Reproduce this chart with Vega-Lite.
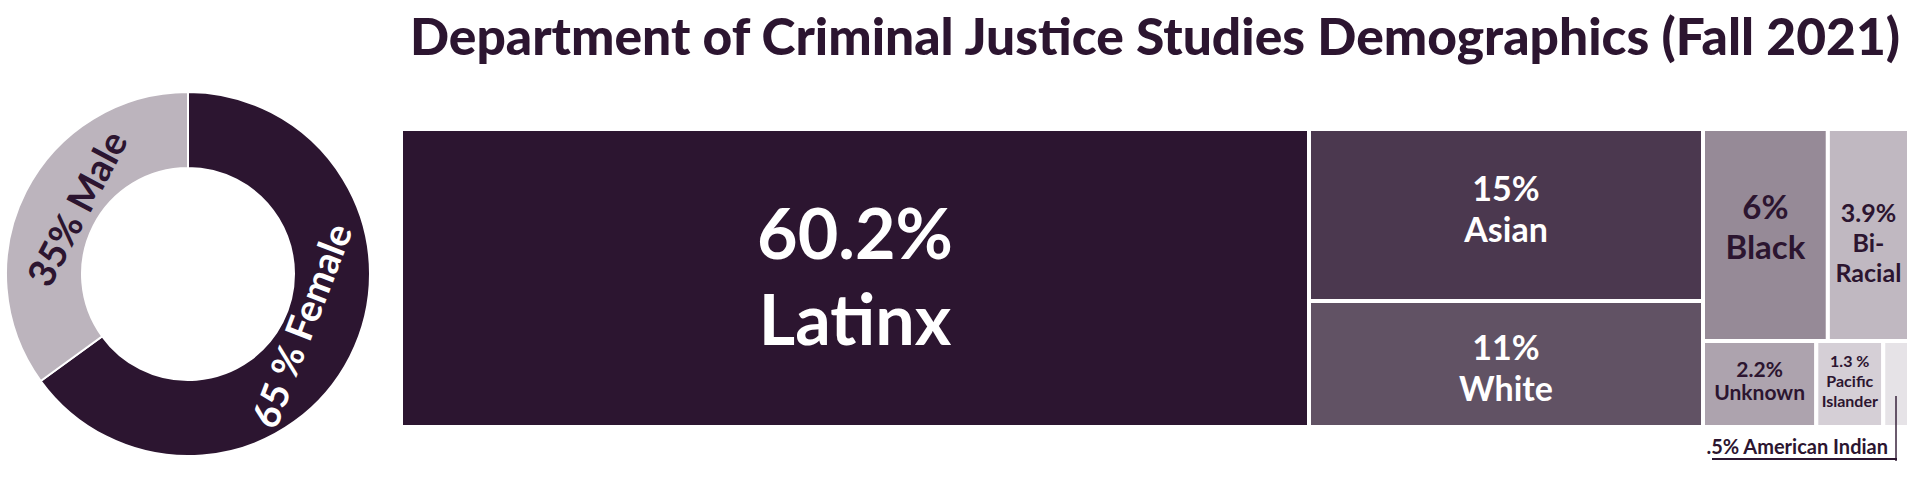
{
  "$schema": "https://vega.github.io/schema/vega-lite/v6.json",
  "background": "white",
  "padding": {"left": 2, "top": 13, "right": 0, "bottom": 0},
  "config": {
    "view": {"stroke": null},
    "text": {"font": "Lato", "fontWeight": "bold"},
    "title": {"font": "Lato", "fontWeight": 900}
  },
  "datasets": {
    "gender": [
      {"gender": "Female", "pct": 65, "label": "65 % Female"},
      {"gender": "Male", "pct": 35, "label": "35% Male"}
    ],
    "race": [
      {"race": "Latinx", "pct": 60.2, "label": "60.2%\nLatinx"},
      {"race": "Asian", "pct": 15, "label": "15%\nAsian"},
      {"race": "White", "pct": 11, "label": "11%\nWhite"},
      {"race": "Black", "pct": 6, "label": "6%\nBlack"},
      {"race": "Bi-Racial", "pct": 3.9, "label": "3.9%\nBi-\nRacial"},
      {"race": "Unknown", "pct": 2.2, "label": "2.2%\nUnknown"},
      {"race": "Pacific Islander", "pct": 1.3, "label": "1.3 %\nPacific\nIslander"},
      {"race": "American Indian", "pct": 0.5, "label": ".5% American Indian"}
    ]
  },
  "spacing": 25,
  "hconcat": [
    {
      "width": 364,
      "height": 298,
      "data": {"name": "gender"},
      "layer": [
        {
          "mark": {"type": "arc", "outerRadius": 182, "innerRadius": 106, "stroke": "white", "strokeWidth": 2, "yOffset": -4},
          "encoding": {
            "theta": {"field": "pct", "type": "quantitative", "stack": true},
            "order": {"field": "pct", "sort": "descending"},
            "fill": {"field": "gender", "type": "nominal", "legend": null,
              "scale": {"domain": ["Latinx", "Asian", "White", "Black", "Bi-Racial", "Unknown", "Pacific Islander", "American Indian", "Female", "Male"],
                        "range": ["#2c1530", "#4b384f", "#615264", "#968a97", "#c0b8c1", "#ada3ae", "#d5cfd6", "#e6e3e7", "#2c1530", "#bcb4bd"]}}
          }
        },
        {
          "mark": {"type": "text", "fontSize": 38, "yOffset": -4,
                   "radius": {"expr": "datum.gender === 'Female' ? 128 : 126"},
                   "angle": {"expr": "datum.gender === 'Female' ? -69 : -62"},
                   "dx": {"expr": "datum.gender === 'Female' ? 6 : 8"}},
          "encoding": {
            "theta": {"field": "pct", "type": "quantitative", "stack": true},
            "order": {"field": "pct", "sort": "descending"},
            "text": {"field": "label", "type": "nominal"},
            "color": {"field": "gender", "type": "nominal", "legend": null,
              "scale": {"domain": ["Female", "Male"], "range": ["#ffffff", "#2c1530"]}}
          }
        }
      ]
    },
    {
      "title": {"text": "Department of Criminal Justice Studies Demographics (Fall 2021)", "anchor": "middle", "fontSize": 51.5, "color": "#2c1530", "offset": 62},
      "spacing": 0,
      "bounds": "flush",
      "hconcat": [
        {
          "width": 908,
          "height": 298,
          "data": {"name": "race"},
          "transform": [{"filter": {"field": "race", "oneOf": ["Latinx"]}}],
          "layer": [
            {
              "transform": [{"stack": "pct", "groupby": [], "sort": [{"field": "pct", "order": "descending"}], "offset": "normalize", "as": ["s0", "s1"]}],
              "mark": {"type": "rect", "stroke": "white", "strokeWidth": 4},
              "encoding": {
                "x": {"field": "s0", "type": "quantitative", "axis": null},
                "x2": {"field": "s1"},
                "fill": {"field": "race", "type": "nominal", "legend": null,
                  "scale": {"domain": ["Latinx", "Asian", "White", "Black", "Bi-Racial", "Unknown", "Pacific Islander", "American Indian", "Female", "Male"],
                            "range": ["#2c1530", "#4b384f", "#615264", "#968a97", "#c0b8c1", "#ada3ae", "#d5cfd6", "#e6e3e7", "#2c1530", "#bcb4bd"]}}
              }
            },
            {
              "mark": {"type": "text", "color": "white", "fontSize": 70, "lineBreak": "\n", "lineHeight": 86, "dy": -40},
              "encoding": {
                "x": {"field": "pct", "type": "quantitative", "stack": "normalize", "bandPosition": 0.5, "axis": null},
                "order": {"field": "pct", "sort": "descending"},
                "text": {"field": "label", "type": "nominal"}
              }
            }
          ]
        },
        {
          "width": 394,
          "height": 298,
          "data": {"name": "race"},
          "transform": [{"filter": {"field": "race", "oneOf": ["Asian", "White"]}}],
          "layer": [
            {
              "transform": [{"stack": "pct", "groupby": [], "sort": [{"field": "pct", "order": "ascending"}], "offset": "normalize", "as": ["s0", "s1"]}],
              "mark": {"type": "rect", "stroke": "white", "strokeWidth": 4},
              "encoding": {
                "y": {"field": "s0", "type": "quantitative", "axis": null},
                "y2": {"field": "s1"},
                "fill": {"field": "race", "type": "nominal", "legend": null,
                  "scale": {"domain": ["Latinx", "Asian", "White", "Black", "Bi-Racial", "Unknown", "Pacific Islander", "American Indian", "Female", "Male"],
                            "range": ["#2c1530", "#4b384f", "#615264", "#968a97", "#c0b8c1", "#ada3ae", "#d5cfd6", "#e6e3e7", "#2c1530", "#bcb4bd"]}}
              }
            },
            {
              "mark": {"type": "text", "color": "white", "fontSize": 34, "lineBreak": "\n", "lineHeight": 41,
                       "dy": {"expr": "datum.race === 'Asian' ? -24 : -14"}},
              "encoding": {
                "y": {"field": "pct", "type": "quantitative", "stack": "normalize", "bandPosition": 0.5, "axis": null},
                "order": {"field": "pct", "sort": "ascending"},
                "text": {"field": "label", "type": "nominal"}
              }
            }
          ]
        },
        {
          "spacing": 0,
          "bounds": "flush",
          "vconcat": [
            {
              "width": 206,
              "height": 212,
              "data": {"name": "race"},
              "transform": [{"filter": {"field": "race", "oneOf": ["Black", "Bi-Racial"]}}],
              "layer": [
                {
                  "transform": [{"stack": "pct", "groupby": [], "sort": [{"field": "pct", "order": "descending"}], "offset": "normalize", "as": ["s0", "s1"]}],
                  "mark": {"type": "rect", "stroke": "white", "strokeWidth": 4},
                  "encoding": {
                    "x": {"field": "s0", "type": "quantitative", "axis": null},
                    "x2": {"field": "s1"},
                    "fill": {"field": "race", "type": "nominal", "legend": null,
                      "scale": {"domain": ["Latinx", "Asian", "White", "Black", "Bi-Racial", "Unknown", "Pacific Islander", "American Indian", "Female", "Male"],
                                "range": ["#2c1530", "#4b384f", "#615264", "#968a97", "#c0b8c1", "#ada3ae", "#d5cfd6", "#e6e3e7", "#2c1530", "#bcb4bd"]}}
                  }
                },
                {
                  "mark": {"type": "text", "color": "#2c1530", "lineBreak": "\n",
                           "fontSize": {"expr": "datum.race === 'Black' ? 33 : 25"},
                           "lineHeight": {"expr": "datum.race === 'Black' ? 40 : 30"},
                           "dy": {"expr": "datum.race === 'Black' ? -26 : -21"}},
                  "encoding": {
                    "x": {"field": "pct", "type": "quantitative", "stack": "normalize", "bandPosition": 0.5, "axis": null},
                    "order": {"field": "pct", "sort": "descending"},
                    "detail": {"field": "race", "type": "nominal"},
                    "text": {"field": "label", "type": "nominal"}
                  }
                }
              ]
            },
            {
              "width": 206,
              "height": 86,
              "data": {"name": "race"},
              "transform": [{"filter": {"field": "race", "oneOf": ["Unknown", "Pacific Islander", "American Indian"]}}],
              "layer": [
                {
                  "transform": [{"stack": "pct", "groupby": [], "sort": [{"field": "pct", "order": "descending"}], "offset": "normalize", "as": ["s0", "s1"]}],
                  "mark": {"type": "rect", "stroke": "white", "strokeWidth": 4},
                  "encoding": {
                    "x": {"field": "s0", "type": "quantitative", "axis": null},
                    "x2": {"field": "s1"},
                    "fill": {"field": "race", "type": "nominal", "legend": null,
                      "scale": {"domain": ["Latinx", "Asian", "White", "Black", "Bi-Racial", "Unknown", "Pacific Islander", "American Indian", "Female", "Male"],
                                "range": ["#2c1530", "#4b384f", "#615264", "#968a97", "#c0b8c1", "#ada3ae", "#d5cfd6", "#e6e3e7", "#2c1530", "#bcb4bd"]}}
                  }
                },
                {
                  "mark": {"type": "text", "color": "#2c1530", "lineBreak": "\n",
                           "fontSize": {"expr": "datum.race === 'Unknown' ? 21 : 16"},
                           "lineHeight": {"expr": "datum.race === 'Unknown' ? 23 : 20"},
                           "dy": {"expr": "datum.race === 'Unknown' ? -13 : -22"}},
                  "encoding": {
                    "x": {"field": "pct", "type": "quantitative", "stack": "normalize", "bandPosition": 0.5, "axis": null},
                    "order": {"field": "pct", "sort": "descending"},
                    "detail": {"field": "race", "type": "nominal"},
                    "text": {"condition": {"test": "datum.race === 'American Indian'", "value": ""}, "field": "label", "type": "nominal"}
                  }
                },
                {
                  "transform": [
                    {"stack": "pct", "groupby": [], "sort": [{"field": "pct", "order": "descending"}], "offset": "normalize", "as": ["s0", "s1"]},
                    {"joinaggregate": [{"op": "min", "field": "s0", "as": "smin"}]},
                    {"filter": {"field": "race", "equal": "American Indian"}}
                  ],
                  "layer": [
                    {
                      "mark": {"type": "text", "color": "#2c1530", "fontSize": 20, "align": "right", "baseline": "alphabetic", "xOffset": -21, "yOffset": 70},
                      "encoding": {
                        "x": {"field": "s1", "type": "quantitative", "axis": null},
                        "text": {"field": "label", "type": "nominal"}
                      }
                    },
                    {
                      "mark": {"type": "tick", "color": "#2c1530", "thickness": 2, "size": 65, "orient": "vertical", "xOffset": -13, "yOffset": 44.5},
                      "encoding": {
                        "x": {"field": "s1", "type": "quantitative", "axis": null}
                      }
                    },
                    {
                      "mark": {"type": "rule", "color": "#2c1530", "strokeWidth": 2, "xOffset": -12, "x2Offset": 9, "yOffset": 75},
                      "encoding": {
                        "x": {"field": "s1", "type": "quantitative", "axis": null},
                        "x2": {"field": "smin"}
                      }
                    }
                  ]
                }
              ]
            }
          ]
        }
      ]
    }
  ]
}
